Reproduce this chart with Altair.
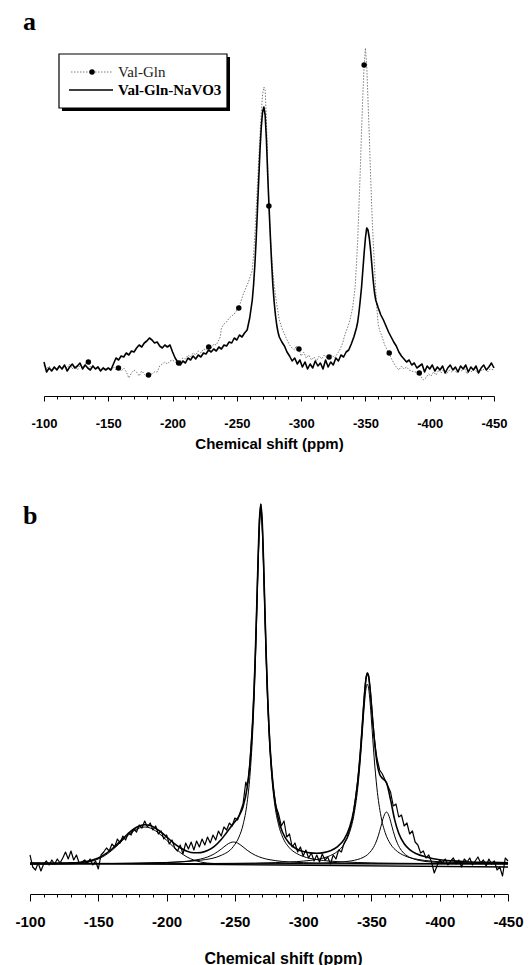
import altair as alt
import pandas as pd

# ---------------- Panel a : Val-Gln vs Val-Gln-NaVO3 ----------------
A_NAVO3_PPM = [-100,-102,-104,-106,-108,-110,-112,-114,-116,-118,-120,-122,-124,-126,-128,-130,-132,-134,-136,-138,
               -140,-142,-144,-146,-148,-150,-152,-154,-156,-158,-160,-162,-164,-166,-168,-170,-172,-174,-176,-178,
               -180,-182,-184,-186,-188,-190,-192,-194,-196,-198,-200,-202,-204,-206,-208,-210,-212,-214,-216,-218,
               -220,-222,-224,-226,-228,-230,-232,-234,-236,-238,-240,-242,-244,-246,-248,-250,-252,-254,-256,-258,
               -260,-262,-263,-264,-265,-266,-267,-268,-269,-270,-271,-272,-273,-274,-275,-276,-277,-278,-279,-280,
               -281,-282,-283,-285,-287,-289,-291,-293,-295,-297,-299,-301,-303,-305,-307,-309,-311,-313,-315,-317,
               -319,-321,-323,-325,-327,-329,-331,-333,-335,-337,-339,-341,-343,-344,-345,-346,-347,-348,-349,-350,
               -351,-352,-353,-354,-355,-356,-357,-358,-360,-362,-364,-366,-368,-370,-372,-374,-376,-378,-380,-382,
               -384,-386,-388,-390,-392,-394,-396,-398,-400,-402,-404,-406,-408,-410,-412,-414,-416,-418,-420,-422,
               -424,-426,-428,-430,-432,-434,-436,-438,-440,-442,-444,-446,-448,-450]
A_NAVO3_INT = [8,-2,2,-1,3,0,4,1,5,-1,3,6,2,4,7,1,5,2,0,4,1,3,-1,2,0,
               2,0,6,12,10,14,13,17,15,19,18,22,25,23,27,29,32,30,27,28,24,22,25,23,25,
               18,12,8,5,9,7,12,10,14,11,15,13,17,16,20,18,21,19,23,21,25,24,28,27,32,30,35,33,37,40,
               52,70,
               85,105,130,160,190,220,243,258,263,255,230,195,164,135,108,85,68,55,45,38,33,
               28,24,18,14,9,
               12,6,10,3,8,1,6,2,9,4,7,1,10,3,8,5,12,9,15,13,18,20,26,33,
               42,48,58,70,83,100,117,132,142,140,132,120,105,90,78,70,
               62,55,50,44,38,33,28,24,18,14,11,8,10,5,7,2,
               4,6,-2,4,1,5,-1,3,0,4,-3,2,5,0,3,-2,4,1,5,-2,3,0,4,-3,2,5,0,3,7,2]

A_VALGLN_PPM = [-100,-102,-104,-106,-108,-110,-112,-114,-116,-118,-120,-122,-124,-126,-128,-130,-132,-134.5,
                -136,-138,-140,-142,-144,-146,-148,-150,-152,-154,-156,-157.9,
                -160,-162,-164,-166,-168,-170,-172,-174,-176,-178,-180,-181.3,
                -184,-186,-188,-190,-192,-194,-196,-198,-200,-202,-204.7,
                -206,-208,-210,-212,-214,-216,-218,-220,-222,-224,-226,-228.1,
                -230,-232,-234,-236,-237,-238,-240,-242,-244,-246,-248,-250,-251.5,
                -253,-255,-257,-259,-261,
                -262,-263,-264,-265,-266,-267,-268,-269,-270,-271,-272,-273,-274,-274.9,
                -276,-277,-278,-279,-280,-281,-282,-283,
                -285,-287,-289,-291,-293,-295,-296,-298.3,
                -300,-302,-304,-306,-308,-310,-312,-314,-316,-318,-320,-321.7,
                -324,-326,-328,-330,-332,-334,-336,-338,-340,
                -341,-342,-343,-344,-345,-346,-347,-348,-349,-350,-351,-352,-353,-354,-355,-356,-357,-358,-359,-360,-361,
                -363,-365,-367,-368.5,
                -370,-372,-374,-376,-378,-380,-382,-384,-386,-388,-390,-391.9,
                -393,-395,-397,-399,-401,-403,-405,-407,-409,-411,-413,-415,-417,-419,-421,-423,-425,-427,-429,-431,
                -433,-435,-437,-439,-441,-443,-445,-447,-450]
A_VALGLN_INT = [5,1,4,-1,3,1,5,0,4,2,6,1,4,0,5,3,6,8,
                3,5,1,4,0,3,1,2,-1,3,0,2,
                -1,2,-2,-8,-3,0,-2,-6,-1,-4,-7,-5,
                -4,-2,-2,4,6,8,6,9,10,8,7,
                9,12,11,15,13,17,15,19,17,21,20,23,
                22,26,25,30,33,42,46,48,52,54,56,60,62,
                68,76,82,88,96,
                100,115,135,160,185,210,235,258,275,283,280,250,205,164,
                135,115,98,85,75,66,58,50,
                42,36,30,25,22,20,24,21,
                14,18,12,15,10,13,9,14,11,15,12,13,
                15,12,16,20,26,35,42,50,62,
                72,83,105,130,165,200,240,275,305,322,305,270,235,195,160,130,105,80,60,45,40,
                33,25,20,17,
                12,7,3,0,4,1,3,0,-1,-2,-2,-3,
                -6,-10,-8,-4,-6,-2,-5,0,-3,1,-4,0,-2,2,-3,1,-1,2,-4,0,
                -2,2,-3,1,-1,3,-2,1,0]

A_MARK_PPM = [-134.5, -157.9, -181.3, -204.7, -228.1, -251.5, -274.9, -298.3, -321.7, -349, -368.5, -391.9]
A_MARK_INT = [8, 2, -5, 7, 23, 62, 164, 21, 13, 305, 17, -3]

# ---------------- Panel b : Val-Gln-NaVO3 with deconvolution ----------------
B_EXP_PPM = [-100,-102,-104,-106,-108,-110,-112,-114,-116,-118,-120,-122,-124,-126,-128,-130,-132,-134,-136,-138,
             -140,-142,-144,-146,-148,-150,-152,-154,-156,-158,-160,-162,-164,-166,-168,-170,-172,-174,-176,-178,
             -180,-182,-184,-186,-188,-190,-192,-194,-196,-198,-200,-202,-204,-206,-208,-210,-212,-214,-216,-218,
             -220,-222,-224,-226,-228,-230,-232,-234,-236,-238,-240,-242,-244,-246,-248,-250,-252,-254,-256,
             -258,-259,-260,-261,-262,-263,-264,-265,-266,-267,-268,-269,-270,-271,-272,-273,-274,-275,-276,-277,
             -278,-279,-280,
             -282,-284,-286,-288,-290,-292,-294,-296,-298,-300,-302,-304,-306,-308,-310,-312,-314,-316,-318,-320,
             -322,-324,-326,-328,-330,-332,-334,-336,-338,-340,
             -341,-342,-343,-344,-345,-346,-347,-348,-349,-350,-351,-352,-353,-354,
             -356,-358,-360,-362,-364,-366,-368,-370,-372,-374,-376,-378,-380,-382,-384,-386,-388,-390,-392,-394,
             -396,-398,-400,-402,-404,-406,-408,-410,-412,-414,-416,-418,-420,-422,-424,-426,-428,-430,-432,-434,
             -436,-438,-440,-442,-444,-446,-448,-450]
B_EXP_INT = [9,-3,-6,1,-7,0,3,-1,4,0,5,1,6,12,5,13,4,9,1,2,
             4,1,5,-1,3,-5,9,12,16,13,20,17,25,21,28,24,31,29,35,32,
             39,36,43,37,41,34,38,30,33,25,29,20,24,16,13,19,10,21,15,22,
             14,23,17,25,19,27,21,29,24,33,28,37,34,41,38,46,44,52,60,
             82,78,86,100,120,142,172,210,256,304,344,360,343,303,254,207,168,137,112,95,
             78,68,58,
             50,38,43,27,30,17,21,12,17,8,14,6,11,3,9,2,10,4,7,0,
             9,5,14,12,21,26,34,44,62,84,
             98,114,133,153,172,186,191,188,176,160,143,128,116,106,
             94,90,84,78,72,58,60,47,49,38,41,30,33,22,19,11,13,6,9,2,
             -9,-2,4,1,5,-1,3,6,0,4,-3,5,2,6,-1,3,7,1,4,-2,
             5,0,3,-6,-3,-12,6,3]

B_FIT_PPM = [-100,-110,-120,-130,-140,-150,-155,-160,-165,-170,-175,-180,-184,-188,-192,-196,-200,
             -205,-210,-215,-220,-225,-230,-235,-240,-244,-249,-253,-256,-259,-261,-263,
             -264,-265,-266,-267,-268,-269,-270,-271,-272,-273,-274,-275,
             -277,-279,-282,-285,-290,-295,-300,-305,-310,-315,-320,-325,-330,-334,-337,-340,-342,
             -343,-344,-345,-346,-347,-348,-349,-350,-351,-352,
             -354,-356,-358,-361,-364,-367,-370,-374,-378,-383,-390,-400,-410,-420,-435,-450]
B_FIT_INT = [0.6,0.6,0.8,1.1,2.3,6.1,9.8,15.0,21.3,28.0,34.0,38.0,39.2,38.5,35.8,31.8,27.2,
             21.2,16.3,12.8,11.2,11.4,13.4,17.6,24.4,31.5,40.6,47.9,57.3,76.3,100.4,141.6,
             171.9,210.4,256.2,304.6,344.2,359.7,343.5,303.0,253.6,206.8,167.4,136.0,
             93.0,66.7,44.0,31.5,20.5,15.2,12.4,11.1,10.8,11.4,13.3,17.1,24.6,36.7,53.2,82.7,113.5,
             132.4,152.4,171.2,185.1,191.0,187.2,175.5,159.2,141.7,125.7,
             101.9,89.7,85.8,81.4,64.3,44.4,30.7,20.2,14.4,10.2,7.0,4.3,3.1,2.3,1.7,1.3]

B_C1_PPM = [-100,-120,-130,-140,-150,-155,-160,-165,-170,-175,-180,-184,-188,-192,-196,
            -200,-205,-210,-215,-220,-225,-230,-235,-240,-250,-260,-300,-350,-400,-450]
B_C1_INT = [0,0.03,0.24,1.3,5.0,8.6,13.7,19.8,26.4,32.2,36.0,37.0,36.0,33.1,28.8,
            23.8,17.2,11.5,7.0,3.9,2.0,0.95,0.42,0.16,0.01,0,0,0,0,0]
B_C2_PPM = [-100,-130,-160,-180,-200,-210,-220,-225,-230,-235,-240,-244,-247,-249,-251,
            -253,-256,-259,-262,-265,-270,-275,-280,-290,-300,-320,-350,-400,-450]
B_C2_INT = [0.17,0.26,0.46,0.75,1.45,2.2,3.68,4.99,7.0,10.2,14.9,19.2,21.5,22.0,21.5,
            20.1,17.1,13.8,11.0,8.75,6.1,4.4,3.3,2.0,1.34,0.7,0.36,0.16,0.09]
B_C3_PPM = [-100,-150,-200,-225,-240,-249,-253,-256,-259,-261,-263,-264,-265,-266,-267,-268,-269,
            -270,-271,-272,-273,-274,-275,-277,-279,-282,-285,-290,-295,-300,-310,-320,-340,-370,-400,-450]
B_C3_INT = [0.26,0.53,1.56,3.8,8.65,17.7,26.9,39.2,61.5,87.5,130.3,161.4,200.5,247,296,336.1,352,
            336.1,296,247,200.5,161.4,130.3,87.5,61.5,39.2,26.9,16.1,10.7,7.59,4.38,2.84,1.47,0.73,0.44,0.23]
B_C4_PPM = [-100,-150,-200,-250,-280,-290,-300,-310,-320,-325,-330,-334,-337,-340,-342,-343,-344,-345,-346,
            -347,-348,-349,-350,-351,-352,-354,-357,-360,-364,-369,-374,-384,-394,-404,-414,-430,-450]
B_C4_INT = [0.11,0.17,0.3,0.69,1.43,1.97,2.89,4.6,8.47,12.5,19.9,31.6,47.6,76.2,106.2,124.6,144,162,175.1,
            180,175.1,162,144,124.6,106.2,76.2,47.6,31.6,19.9,12.5,8.47,4.6,2.89,1.97,1.43,0.94,0.61]
B_C5_PPM = [-100,-200,-250,-280,-300,-320,-330,-335,-340,-344,-347,-350,-353,-355,-357,-359,-361,
            -363,-365,-367,-369,-372,-375,-379,-385,-395,-410,-430,-450]
B_C5_INT = [0.03,0.085,0.18,0.33,0.58,1.27,2.19,3.06,4.55,6.63,9.22,13.5,20.7,28.1,37.7,47.5,52,
            47.5,37.7,28.1,20.7,13.5,9.22,6.0,3.56,1.83,0.9,0.45,0.28]
B_BASE_PPM = [-100, -450]
B_BASE_INT = [1, -3]

TICKS = [-100,-110,-120,-130,-140,-150,-160,-170,-180,-190,-200,-210,-220,-230,-240,-250,-260,-270,
         -280,-290,-300,-310,-320,-330,-340,-350,-360,-370,-380,-390,-400,-410,-420,-430,-440,-450]
AXIS_TITLE = "Chemical shift (ppm)"
LEGEND_LABELS = ["Val-Gln", "Val-Gln-NaVO3"]

SANS = "Liberation Sans"
SERIF = "Liberation Serif"
MAJOR = "abs(datum.value) % 50 == 0"


def frame(ppm, val, **extra):
    d = pd.DataFrame({"ppm": ppm, "I": val})
    for k, v in extra.items():
        d[k] = v
    return d


def shift_axis(major, minor, size, pad, tpad, tsize, title_x=None):
    kw = dict(values=TICKS, title=AXIS_TITLE,
              labelExpr=MAJOR + " ? '-' + abs(datum.value) : ''",
              tickSize={"condition": {"test": MAJOR, "value": major}, "value": minor},
              tickColor="black", tickWidth=1, domainColor="black", domainWidth=1,
              labelFont=SANS, labelFontWeight="bold", labelFontSize=size, labelColor="black",
              labelPadding=pad, labelFlush=False, labelOverlap=False,
              titleFont=SANS, titleFontWeight="bold", titleFontSize=tsize, titleColor="black",
              titlePadding=tpad, grid=False)
    if title_x is not None:
        kw["titleX"] = title_x
    return alt.Axis(**kw)


one = pd.DataFrame({"k": [0]})

# ---- panel a ----
XA = alt.Scale(domain=[-100, -450], range=[14, 464], nice=False, zero=False)
YA = alt.Scale(domain=[-26, 350], nice=False, zero=False)
AXA = shift_axis(5, 3, 13, 16, 6, 15)


def enc_a():
    return dict(x=alt.X("ppm:Q", scale=XA, axis=AXA), y=alt.Y("I:Q", scale=YA, axis=None))


a_valgln = alt.Chart(frame(A_VALGLN_PPM, A_VALGLN_INT)).mark_line(
    color="#7d7d7d", strokeWidth=1, strokeDash=[1.5, 1.5]).encode(**enc_a())
a_navo3 = alt.Chart(frame(A_NAVO3_PPM, A_NAVO3_INT)).mark_line(
    color="black", strokeWidth=1.6, strokeJoin="round").encode(**enc_a())
a_marks = alt.Chart(frame(A_MARK_PPM, A_MARK_INT)).mark_point(
    filled=True, color="black", size=30, opacity=1).encode(**enc_a())

leg_shadow = alt.Chart(one).mark_rect(fill="black").encode(
    x=alt.value(32), x2=alt.value(200), y=alt.value(37), y2=alt.value(91))
leg_box = alt.Chart(one).mark_rect(fill="white", stroke="black", strokeWidth=1.2).encode(
    x=alt.value(29), x2=alt.value(197), y=alt.value(34), y2=alt.value(88))
leg_l1 = alt.Chart(one).mark_rule(color="#7d7d7d", strokeWidth=1, strokeDash=[1.5, 1.5]).encode(
    x=alt.value(41), x2=alt.value(82), y=alt.value(52))
leg_d1 = alt.Chart(one).mark_point(filled=True, color="black", size=30, opacity=1).encode(
    x=alt.value(62), y=alt.value(52))
leg_l2 = alt.Chart(one).mark_rule(color="black", strokeWidth=1.6).encode(
    x=alt.value(39), x2=alt.value(83), y=alt.value(70))
leg_t1 = alt.Chart(one).mark_text(text=LEGEND_LABELS[0], font=SERIF, fontSize=15, align="left",
                                  baseline="middle", color="#222").encode(x=alt.value(88), y=alt.value(52))
leg_t2 = alt.Chart(one).mark_text(text=LEGEND_LABELS[1], font=SERIF, fontSize=15, fontWeight="bold",
                                  align="left", baseline="middle", color="black").encode(
    x=alt.value(88), y=alt.value(70))
a_letter = alt.Chart(one).mark_text(text="a", font=SERIF, fontSize=26, fontWeight="bold", align="left",
                                    baseline="alphabetic", color="black").encode(x=alt.value(-7), y=alt.value(10))
a_anchor = alt.Chart(one).mark_rule(opacity=0).encode(
    x=alt.value(-22), x2=alt.value(-21), y=alt.value(-12), y2=alt.value(-11))

panel_a = alt.layer(a_valgln, a_navo3, a_marks, leg_shadow, leg_box, leg_l1, leg_d1, leg_l2,
                    leg_t1, leg_t2, a_letter, a_anchor).properties(width=478, height=376)

# ---- panel b ----
XB = alt.Scale(domain=[-100, -450], nice=False, zero=False)
YB = alt.Scale(domain=[-30, 365], nice=False, zero=False)
AXB = shift_axis(7, 3, 15, 13, 21, 16, title_x=253)


def enc_b():
    return dict(x=alt.X("ppm:Q", scale=XB, axis=AXB), y=alt.Y("I:Q", scale=YB, axis=None))


comps = pd.concat([
    frame(B_C1_PPM, B_C1_INT, comp="c1"),
    frame(B_C2_PPM, B_C2_INT, comp="c2"),
    frame(B_C3_PPM, B_C3_INT, comp="c3"),
    frame(B_C4_PPM, B_C4_INT, comp="c4"),
    frame(B_C5_PPM, B_C5_INT, comp="c5"),
])
b_base = alt.Chart(frame(B_BASE_PPM, B_BASE_INT)).mark_line(color="black", strokeWidth=1.4).encode(**enc_b())
b_comp = alt.Chart(comps).mark_line(color="black", strokeWidth=1.0, interpolate="monotone").encode(
    detail="comp:N", **enc_b())
b_fit = alt.Chart(frame(B_FIT_PPM, B_FIT_INT)).mark_line(
    color="black", strokeWidth=1.6, interpolate="monotone").encode(**enc_b())
b_exp = alt.Chart(frame(B_EXP_PPM, B_EXP_INT)).mark_line(
    color="black", strokeWidth=1.2, strokeJoin="round").encode(**enc_b())
b_letter = alt.Chart(one).mark_text(text="b", font=SERIF, fontSize=26, fontWeight="bold", align="left",
                                    baseline="alphabetic", color="black").encode(x=alt.value(-7), y=alt.value(25))
b_anchor = alt.Chart(one).mark_rule(opacity=0).encode(
    x=alt.value(-22), x2=alt.value(-21), y=alt.value(-10), y2=alt.value(-9))

panel_b = alt.layer(b_base, b_comp, b_fit, b_exp, b_letter, b_anchor).properties(width=478, height=395)

chart = alt.vconcat(panel_a, panel_b, spacing=38).resolve_scale(
    x="independent", y="independent").properties(padding=0).configure_view(stroke=None)

chart.save("out.html", embed_options={"renderer": "svg", "actions": False})
